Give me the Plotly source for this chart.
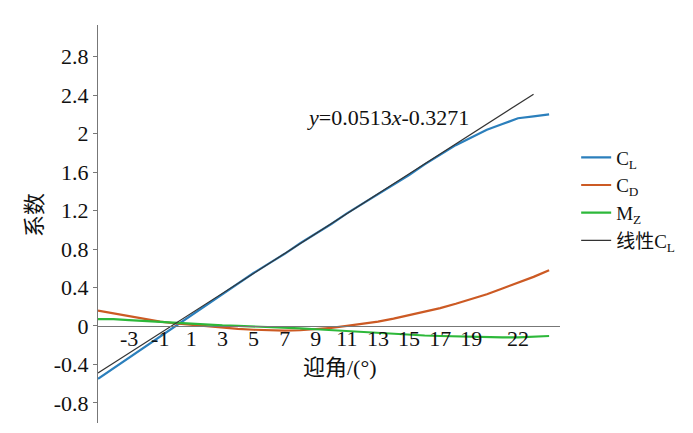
import plotly.graph_objects as go

# angle of attack (deg)
alpha = list(range(-5, 25))
CL = [-0.55, -0.44, -0.33, -0.22, -0.11, 0.0, 0.11, 0.22, 0.33, 0.44,
      0.55, 0.65, 0.75, 0.86, 0.96, 1.06, 1.17, 1.27, 1.37, 1.47,
      1.57, 1.68, 1.78, 1.88, 1.96, 2.04, 2.10, 2.16, 2.18, 2.20]
CD = [0.16, 0.13, 0.10, 0.07, 0.045, 0.025, 0.01, -0.005, -0.02, -0.03,
      -0.04, -0.045, -0.05, -0.045, -0.035, -0.02, 0.0, 0.02, 0.045, 0.075,
      0.11, 0.145, 0.185, 0.23, 0.28, 0.33, 0.39, 0.45, 0.51, 0.58]
MZ = [0.07, 0.07, 0.06, 0.05, 0.04, 0.03, 0.02, 0.01, 0.005, 0.0,
      -0.005, -0.01, -0.02, -0.025, -0.035, -0.045, -0.055, -0.065, -0.075, -0.085,
      -0.09, -0.10, -0.105, -0.11, -0.115, -0.12, -0.12, -0.12, -0.115, -0.105]
linear_x = [-5, 23]
linear_y = [-0.49, 2.41]

x_tickvals = [-3, -1, 1, 3, 5, 7, 9, 11, 13, 15, 17, 19, 22]
x_ticktext = ["-3", "-1", "1", "3", "5", "7", "9", "11", "13", "15", "17", "19", "22"]
y_tickvals = [-0.8, -0.4, 0, 0.4, 0.8, 1.2, 1.6, 2.0, 2.4, 2.8]
y_ticktext = ["-0.8", "-0.4", "0", "0.4", "0.8", "1.2", "1.6", "2", "2.4", "2.8"]

YMIN, YMAX = -1.01, 3.13
FONT = "Liberation Serif, Times New Roman, Noto Sans CJK SC, serif"
FS = 22

fig = go.Figure()
fig.add_trace(go.Scatter(x=alpha, y=CL, mode="lines", name="C<sub>L</sub>",
                         line=dict(color="#2B7FBC", width=2.2)))
fig.add_trace(go.Scatter(x=alpha, y=CD, mode="lines", name="C<sub>D</sub>",
                         line=dict(color="#CC5A24", width=2.2)))
fig.add_trace(go.Scatter(x=alpha, y=MZ, mode="lines", name="M<sub>Z</sub>",
                         line=dict(color="#2DB83A", width=2.2)))
fig.add_trace(go.Scatter(x=linear_x, y=linear_y, mode="lines", name="线性C<sub>L</sub>",
                         line=dict(color="#333333", width=1.2)))

fig.update_layout(
    width=693, height=433,
    margin=dict(l=98, r=133, t=25, b=10),
    paper_bgcolor="white", plot_bgcolor="white",
    font=dict(family=FONT, size=FS, color="#111111"),
    showlegend=True,
    legend=dict(x=1.035, y=0.715, xanchor="left", yanchor="top",
                font=dict(family=FONT, size=19, color="#111111"),
                tracegroupgap=0, itemwidth=30, bgcolor="rgba(0,0,0,0)"),
    xaxis=dict(range=[-5, 24.7], tickvals=x_tickvals, ticktext=x_ticktext,
               anchor="free", position=(0 - YMIN) / (YMAX - YMIN),
               showline=True, linecolor="#777777", linewidth=1,
               showgrid=False, zeroline=False, ticks="",
               ticklabelstandoff=-7,
               tickfont=dict(family=FONT, size=FS)),
    yaxis=dict(range=[YMIN, YMAX], tickvals=y_tickvals, ticktext=y_ticktext,
               showline=True, linecolor="#777777", linewidth=1,
               showgrid=False, zeroline=False, ticks="outside", ticklen=4,
               tickcolor="#777777",
               tickfont=dict(family=FONT, size=FS)),
)

fig.add_annotation(text="<i>y</i>=0.0513<i>x</i>-0.3271", xref="paper", yref="paper",
                   x=(388 - 98) / 462, y=(423 - 117) / 398, showarrow=False,
                   xanchor="center", yanchor="middle",
                   font=dict(family=FONT, size=FS, color="#111111"))
fig.add_annotation(text="迎角/(°)", xref="paper", yref="paper",
                   x=(340 - 98) / 462, y=(423 - 367) / 398, showarrow=False,
                   xanchor="center", yanchor="middle",
                   font=dict(family=FONT, size=FS, color="#111111"))
fig.add_annotation(text="系数", xref="paper", yref="paper", textangle=-90,
                   x=(35 - 98) / 462, y=(423 - 215) / 398, showarrow=False,
                   xanchor="center", yanchor="middle",
                   font=dict(family=FONT, size=FS, color="#111111"))

fig.write_html("out.html", config={"displayModeBar": False},
               post_script="document.body.style.margin='0';")
